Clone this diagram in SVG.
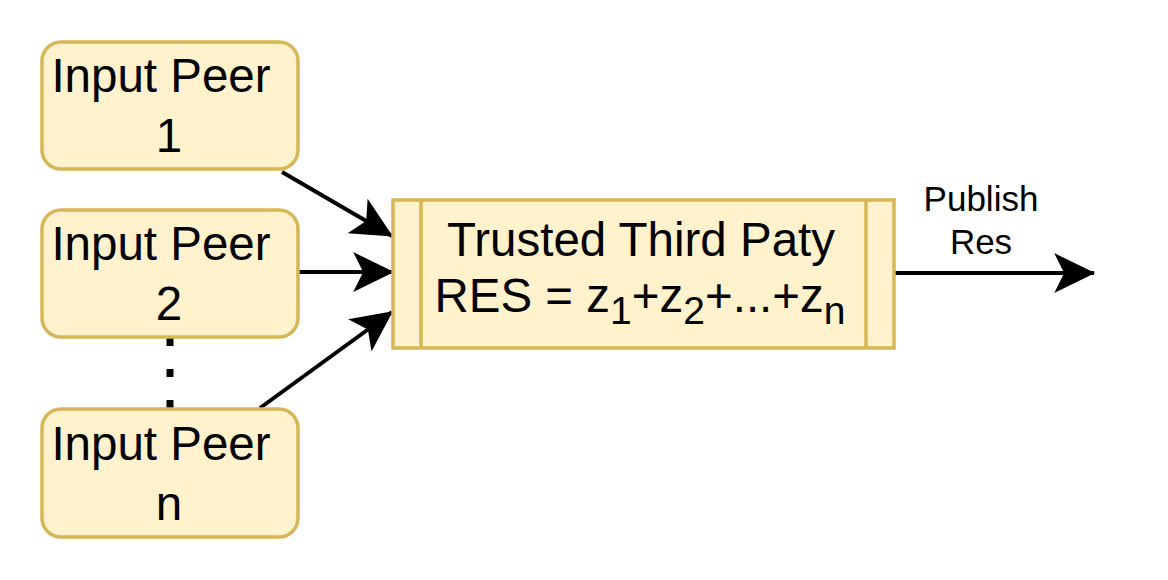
<svg xmlns="http://www.w3.org/2000/svg" width="1168" height="580" viewBox="0 0 1168 580">
<style>
.box{fill:#fff2cc;stroke:#d6b656;stroke-width:3.5}
.t{font-family:"Liberation Sans",Arial,sans-serif;fill:#000}
.big{font-size:47.5px}
.small{font-size:35px}
.edge{stroke:#000;stroke-width:4;fill:none}
</style>
<defs>
<marker id="arr" markerUnits="userSpaceOnUse" markerWidth="42" markerHeight="42" viewBox="0 0 38 36" refX="36" refY="18" orient="auto">
<path d="M37,18 L0,0 L9,18 L0,36 Z" fill="#000"/>
</marker>
</defs>
<rect width="1168" height="580" fill="#fff"/>
<g id="connectors">
<line class="edge" x1="282" y1="172" x2="392" y2="236" marker-end="url(#arr)"/>
<line class="edge" x1="298" y1="272" x2="393" y2="272" marker-end="url(#arr)"/>
<line class="edge" x1="260" y1="408" x2="392" y2="312" marker-end="url(#arr)"/>
<line class="edge" x1="895" y1="273" x2="1094" y2="273" marker-end="url(#arr)"/>
<line x1="170" y1="338" x2="170" y2="409" stroke="#000" stroke-width="7" stroke-dasharray="8 23"/>
</g>
<g id="peer1">
<rect class="box" x="42" y="42" width="256" height="127" rx="19"/>
<text class="t big" x="161" y="92" text-anchor="middle">Input Peer</text>
<text class="t big" x="169" y="152" text-anchor="middle">1</text>
</g>
<g id="peer2">
<rect class="box" x="42" y="210" width="256" height="127" rx="19"/>
<text class="t big" x="161" y="260" text-anchor="middle">Input Peer</text>
<text class="t big" x="169" y="320" text-anchor="middle">2</text>
</g>
<g id="peern">
<rect class="box" x="42" y="409" width="256" height="128" rx="19"/>
<text class="t big" x="161" y="460" text-anchor="middle">Input Peer</text>
<text class="t big" x="169" y="520" text-anchor="middle">n</text>
</g>
<g id="ttp">
<rect class="box" x="393" y="200" width="501" height="148"/>
<line x1="421" y1="200" x2="421" y2="348" stroke="#d6b656" stroke-width="3.5"/>
<line x1="866" y1="200" x2="866" y2="348" stroke="#d6b656" stroke-width="3.5"/>
<text class="t big" x="641" y="256" text-anchor="middle">Trusted Third Paty</text>
<text class="t big" x="640" y="312" text-anchor="middle">RES = z<tspan font-size="39" dy="12">1</tspan><tspan dy="-12">+z</tspan><tspan font-size="39" dy="12">2</tspan><tspan dy="-12">+...+z</tspan><tspan font-size="39" dy="12">n</tspan></text>
</g>
<g id="label">
<text class="t small" x="981" y="211" text-anchor="middle">Publish</text>
<text class="t small" x="981" y="254" text-anchor="middle">Res</text>
</g>
</svg>
